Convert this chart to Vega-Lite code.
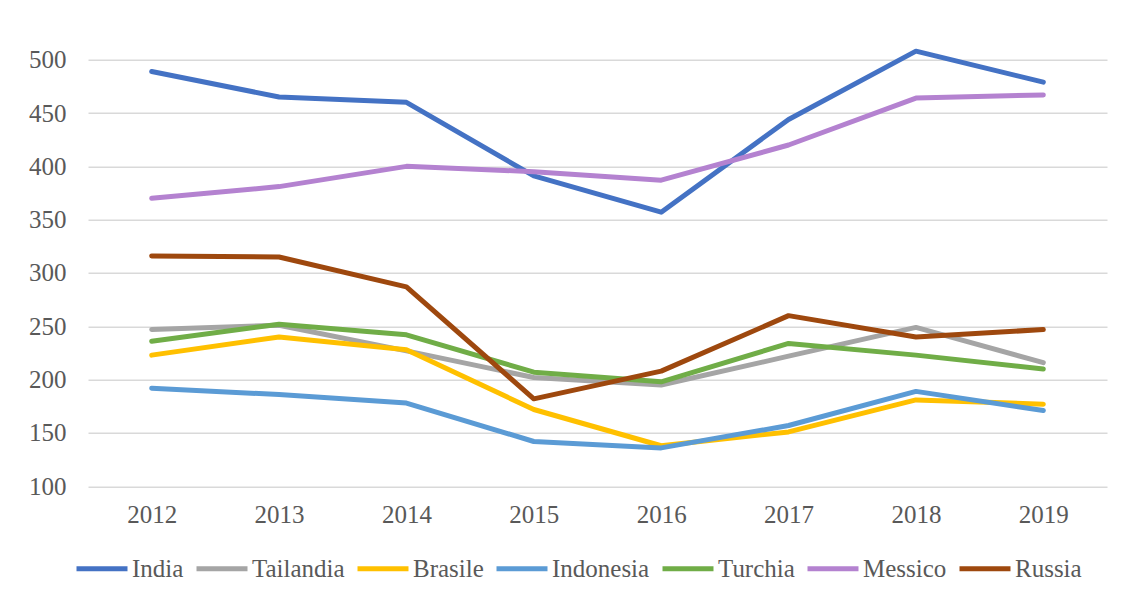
{
  "$schema": "https://vega.github.io/schema/vega-lite/v6.json",
  "autosize": {"type": "none"},
  "width": 1019,
  "height": 426.6,
  "padding": {"left": 88, "top": 59.7, "right": 14, "bottom": 115},
  "background": "white",
  "config": {
    "view": {"stroke": null},
    "font": "Liberation Serif"
  },
  "data": {
    "values": [
      {"anno": "2012", "paese": "India", "valore": 489},
      {"anno": "2013", "paese": "India", "valore": 465},
      {"anno": "2014", "paese": "India", "valore": 460},
      {"anno": "2015", "paese": "India", "valore": 391},
      {"anno": "2016", "paese": "India", "valore": 357},
      {"anno": "2017", "paese": "India", "valore": 444},
      {"anno": "2018", "paese": "India", "valore": 508},
      {"anno": "2019", "paese": "India", "valore": 479},
      {"anno": "2012", "paese": "Tailandia", "valore": 247},
      {"anno": "2013", "paese": "Tailandia", "valore": 251},
      {"anno": "2014", "paese": "Tailandia", "valore": 227},
      {"anno": "2015", "paese": "Tailandia", "valore": 202},
      {"anno": "2016", "paese": "Tailandia", "valore": 195},
      {"anno": "2017", "paese": "Tailandia", "valore": 222},
      {"anno": "2018", "paese": "Tailandia", "valore": 249},
      {"anno": "2019", "paese": "Tailandia", "valore": 216},
      {"anno": "2012", "paese": "Brasile", "valore": 223},
      {"anno": "2013", "paese": "Brasile", "valore": 240},
      {"anno": "2014", "paese": "Brasile", "valore": 228},
      {"anno": "2015", "paese": "Brasile", "valore": 172},
      {"anno": "2016", "paese": "Brasile", "valore": 138},
      {"anno": "2017", "paese": "Brasile", "valore": 151},
      {"anno": "2018", "paese": "Brasile", "valore": 181},
      {"anno": "2019", "paese": "Brasile", "valore": 177},
      {"anno": "2012", "paese": "Indonesia", "valore": 192},
      {"anno": "2013", "paese": "Indonesia", "valore": 186},
      {"anno": "2014", "paese": "Indonesia", "valore": 178},
      {"anno": "2015", "paese": "Indonesia", "valore": 142},
      {"anno": "2016", "paese": "Indonesia", "valore": 136},
      {"anno": "2017", "paese": "Indonesia", "valore": 157},
      {"anno": "2018", "paese": "Indonesia", "valore": 189},
      {"anno": "2019", "paese": "Indonesia", "valore": 171},
      {"anno": "2012", "paese": "Turchia", "valore": 236},
      {"anno": "2013", "paese": "Turchia", "valore": 252},
      {"anno": "2014", "paese": "Turchia", "valore": 242},
      {"anno": "2015", "paese": "Turchia", "valore": 207},
      {"anno": "2016", "paese": "Turchia", "valore": 198},
      {"anno": "2017", "paese": "Turchia", "valore": 234},
      {"anno": "2018", "paese": "Turchia", "valore": 223},
      {"anno": "2019", "paese": "Turchia", "valore": 210},
      {"anno": "2012", "paese": "Messico", "valore": 370},
      {"anno": "2013", "paese": "Messico", "valore": 381},
      {"anno": "2014", "paese": "Messico", "valore": 400},
      {"anno": "2015", "paese": "Messico", "valore": 395},
      {"anno": "2016", "paese": "Messico", "valore": 387},
      {"anno": "2017", "paese": "Messico", "valore": 420},
      {"anno": "2018", "paese": "Messico", "valore": 464},
      {"anno": "2019", "paese": "Messico", "valore": 467},
      {"anno": "2012", "paese": "Russia", "valore": 316},
      {"anno": "2013", "paese": "Russia", "valore": 315},
      {"anno": "2014", "paese": "Russia", "valore": 287},
      {"anno": "2015", "paese": "Russia", "valore": 182},
      {"anno": "2016", "paese": "Russia", "valore": 208},
      {"anno": "2017", "paese": "Russia", "valore": 260},
      {"anno": "2018", "paese": "Russia", "valore": 240},
      {"anno": "2019", "paese": "Russia", "valore": 247}
    ]
  },
  "mark": {"type": "line", "strokeWidth": 5, "strokeCap": "round", "strokeJoin": "round"},
  "encoding": {
    "x": {
      "field": "anno", "type": "ordinal",
      "scale": {"type": "point", "padding": 0.5},
      "axis": {
        "title": null, "labelAngle": 0, "domain": false, "ticks": false,
        "labelFontSize": 25, "labelColor": "#595959", "labelPadding": 16,
        "labelFont": "Liberation Serif"
      }
    },
    "y": {
      "field": "valore", "type": "quantitative",
      "scale": {"domain": [100, 500], "nice": false, "zero": false},
      "axis": {
        "title": null, "values": [100, 150, 200, 250, 300, 350, 400, 450, 500],
        "domain": false, "ticks": false, "gridColor": "#D9D9D9", "gridWidth": 1.5,
        "labelFontSize": 25, "labelColor": "#595959", "labelPadding": 22,
        "labelFont": "Liberation Serif"
      }
    },
    "color": {
      "field": "paese", "type": "nominal",
      "sort": ["India", "Tailandia", "Brasile", "Indonesia", "Turchia", "Messico", "Russia"],
      "scale": {
        "domain": ["India", "Tailandia", "Brasile", "Indonesia", "Turchia", "Messico", "Russia"],
        "range": ["#4472C4", "#A5A5A5", "#FFC000", "#5B9BD5", "#70AD47", "#B482D0", "#9E480E"]
      },
      "legend": {
        "title": null, "orient": "none", "legendX": -14, "legendY": 481,
        "direction": "horizontal", "columns": 7,
        "symbolType": "stroke", "symbolSize": 2600, "symbolStrokeWidth": 5,
        "labelFontSize": 25, "labelColor": "#595959", "labelFont": "Liberation Serif",
        "labelOffset": 2, "columnPadding": 2, "symbolOffset": 0
      }
    },
    "order": {"field": "anno"}
  }
}
